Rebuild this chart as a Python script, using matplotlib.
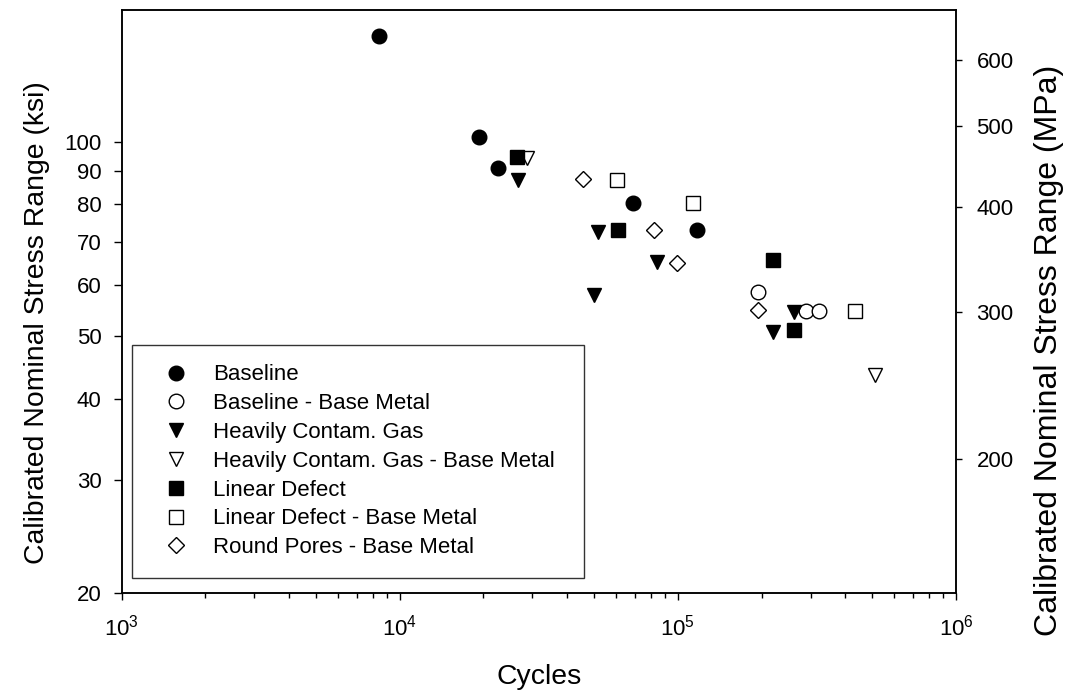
import numpy as np
import matplotlib
matplotlib.use("Agg")
import matplotlib.pyplot as plt
from matplotlib.ticker import FixedLocator, NullLocator, LogLocator, FuncFormatter

plt.rcParams['font.family'] = ['Liberation Sans', 'DejaVu Sans']
plt.rcParams['mathtext.fontset'] = 'custom'
plt.rcParams['mathtext.rm'] = 'Liberation Sans'
plt.rcParams['mathtext.it'] = 'Liberation Sans'
plt.rcParams['mathtext.default'] = 'regular'

# cycles / stress range (ksi) for each series
baseline_x = [8400, 19200, 22600, 69100, 116800]
baseline_y = [146, 101.6, 91.2, 80.3, 73.0]

baseline_bm_x = [194600, 288800, 322500]
baseline_bm_y = [58.5, 54.7, 54.7]

gas_x = [26700, 51700, 83900, 49900, 262200, 220400]
gas_y = [87.3, 72.4, 65.2, 58.0, 54.6, 50.8]

gas_bm_x = [28700, 511300]
gas_bm_y = [94.3, 43.5]

linear_x = [26300, 61100, 219300, 261600]
linear_y = [94.8, 73.0, 65.6, 51.1]

linear_bm_x = [60300, 113000, 433400]
linear_bm_y = [87.3, 80.3, 54.7]

pores_bm_x = [45700, 82000, 99000, 194600]
pores_bm_y = [87.5, 73.0, 65.0, 54.9]

ksi_ticks = [20, 30, 40, 50, 60, 70, 80, 90, 100]
mpa_ticks = [200, 300, 400, 500, 600]

fig = plt.figure(figsize=(10.69, 6.91), dpi=100)
ax = fig.add_axes([0.1138, 0.1414, 0.7805, 0.8441])

series = [
    (baseline_x, baseline_y, 'o', 'black', 'Baseline', 10.5),
    (baseline_bm_x, baseline_bm_y, 'o', 'white', 'Baseline - Base Metal', 10.5),
    (gas_x, gas_y, 'v', 'black', 'Heavily Contam. Gas', 10.5),
    (gas_bm_x, gas_bm_y, 'v', 'white', 'Heavily Contam. Gas - Base Metal', 10.5),
    (linear_x, linear_y, 's', 'black', 'Linear Defect', 9.5),
    (linear_bm_x, linear_bm_y, 's', 'white', 'Linear Defect - Base Metal', 9.5),
    (pores_bm_x, pores_bm_y, 'D', 'white', 'Round Pores - Base Metal', 8.5),
]
for xs, ys, mk, fc, lab, ms in series:
    ax.plot(xs, ys, linestyle='none', marker=mk, markerfacecolor=fc,
            markeredgecolor='black', markeredgewidth=1.0, markersize=ms,
            label=lab, zorder=3)

ax.set_xscale('log')
ax.set_yscale('log')
ax.set_xlim(1e3, 1e6)
ax.set_ylim(20, 160)

ax.xaxis.set_major_locator(LogLocator(base=10, numticks=10))
ax.xaxis.set_minor_locator(LogLocator(base=10, subs=np.arange(2, 10), numticks=20))
ax.xaxis.set_major_formatter(FuncFormatter(lambda v, p: r'$10^{%d}$' % round(np.log10(v))))
ax.yaxis.set_major_locator(FixedLocator(ksi_ticks))
ax.yaxis.set_minor_locator(NullLocator())
ax.set_yticklabels([str(t) for t in ksi_ticks])

ax.tick_params(axis='y', which='major', direction='out', length=6, width=1,
               labelsize=16, colors='black', pad=8.4)
ax.tick_params(axis='x', which='major', direction='out', length=5.3, width=1,
               labelsize=16, colors='black', pad=10.4)
ax.tick_params(axis='x', which='minor', direction='out', length=3.4, width=1)
for sp in ax.spines.values():
    sp.set_linewidth(1.1)

ax.set_xlabel('Cycles', fontsize=20.4)
ax.xaxis.set_label_coords(0.5, -0.121)
ax.set_ylabel('Calibrated Nominal Stress Range (ksi)', fontsize=20.4)
ax.yaxis.set_label_coords(-0.0859, 0.464)

# right axis (MPa)
ax2 = ax.twinx()
ax2.set_yscale('log')
ax2.set_ylim(137.9, 689.5)
ax2.yaxis.set_major_locator(FixedLocator(mpa_ticks))
ax2.yaxis.set_minor_locator(NullLocator())
ax2.set_yticklabels([str(t) for t in mpa_ticks])
ax2.tick_params(axis='y', which='major', direction='out', length=4, width=1,
                labelsize=16, pad=10.8)
ax2.set_ylabel('Calibrated Nominal Stress Range (MPa)', fontsize=23)
ax2.yaxis.set_label_coords(1.094, 0.417)
for sp in ax2.spines.values():
    sp.set_linewidth(1.1)

leg = ax.legend(loc='lower left', bbox_to_anchor=(0.012, 0.0267, 0.5425, 0.397),
                mode='expand', borderaxespad=0,
                fontsize=16, frameon=True, fancybox=False, edgecolor='#333333',
                framealpha=1, handlelength=2.2, handletextpad=0.6,
                labelspacing=0.35, borderpad=0.88, numpoints=1)
leg.get_frame().set_linewidth(1.0)

fig.savefig('out.png', dpi=100)
